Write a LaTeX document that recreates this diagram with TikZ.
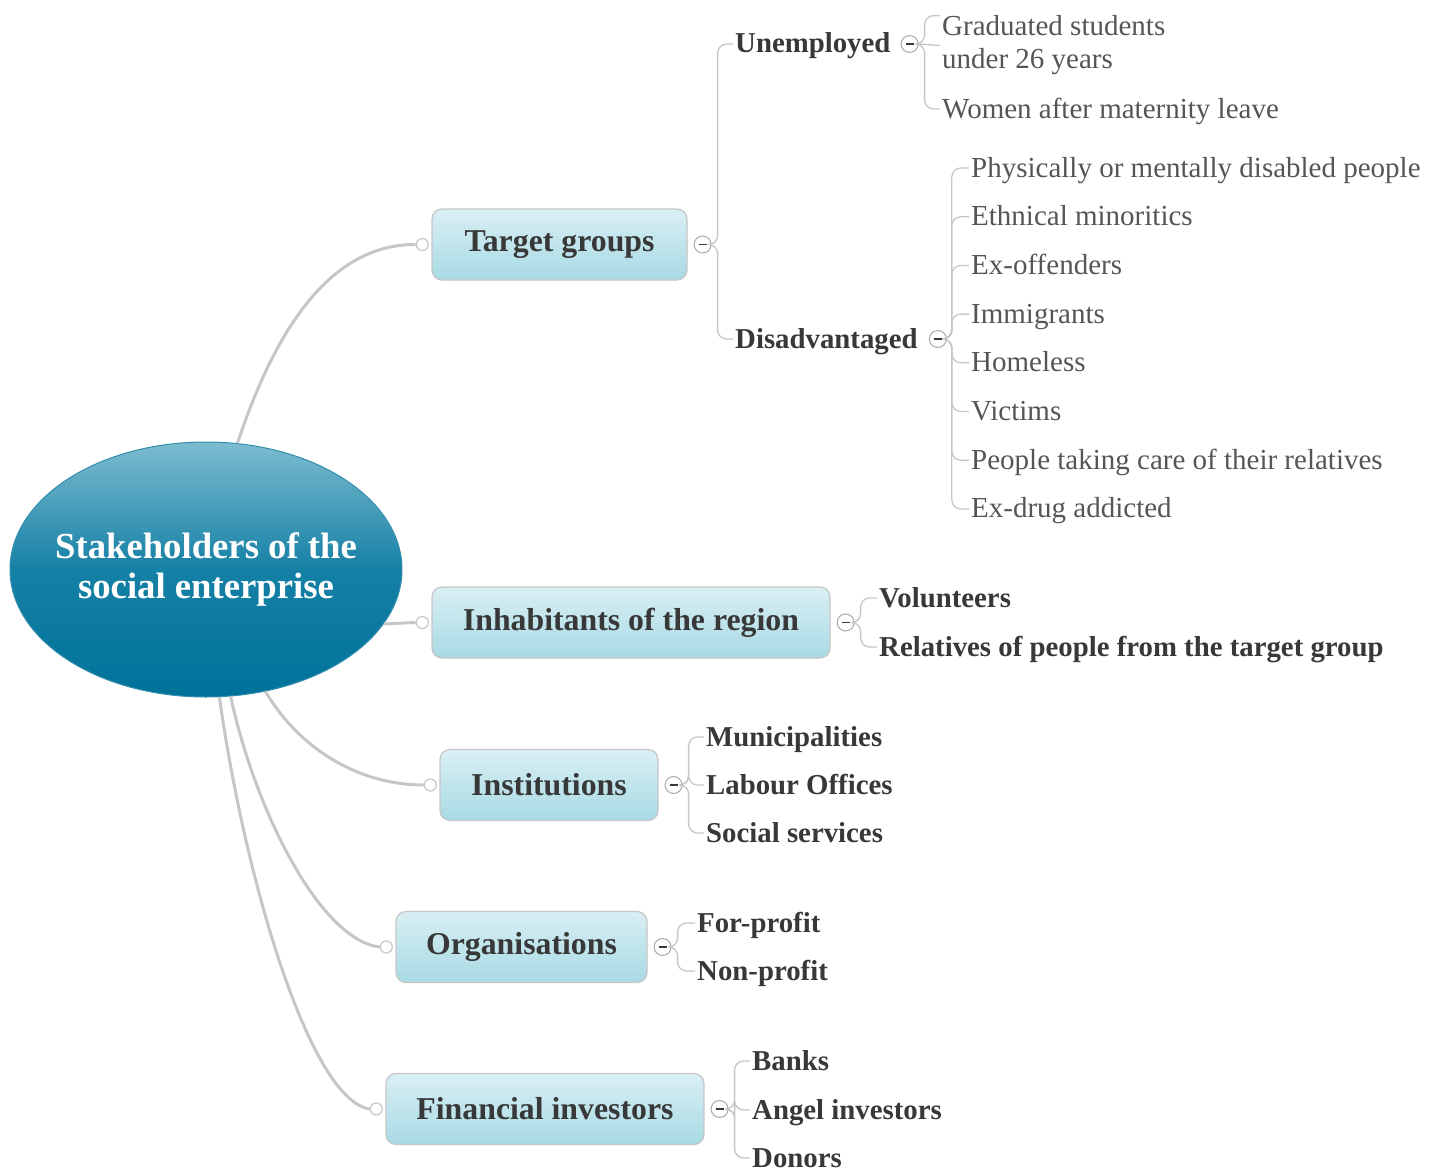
\documentclass[tikz,border=0pt]{standalone}
\usepackage{fontspec}
\setmainfont{Liberation Serif}
\usepackage{xcolor}
\usetikzlibrary{positioning,shapes.geometric}

\definecolor{linkgray}{HTML}{C6C6C6}
\definecolor{hubtop}{HTML}{7DBCD0}
\definecolor{hubmid}{HTML}{1580A5}
\definecolor{hubdark}{HTML}{00729A}
\definecolor{boxtop}{HTML}{D9EFF4}
\definecolor{boxbot}{HTML}{A8DAE4}
\definecolor{inkdark}{HTML}{383838}
\definecolor{inkleaf}{HTML}{555555}

\begin{document}
\begin{tikzpicture}[
  x=1pt, y=-1pt,
  hub/.style={ellipse, draw=hubdark!80!white, line width=1pt, top color=hubtop, bottom color=hubdark, middle color=hubmid,
    minimum width=392pt, minimum height=255pt, inner sep=0pt},
  hubtext/.style={text=white, align=center, inner sep=0pt, font=\fontsize{36.7}{40}\selectfont\bfseries},
  topic/.style={draw=linkgray, line width=1.2pt, rounded corners=10pt, top color=boxtop, bottom color=boxbot,
    minimum height=71pt, text=inkdark, font=\fontsize{31.8}{36}\selectfont\bfseries},
  port/.style={circle, draw=linkgray, fill=white, line width=1.2pt, minimum size=12pt, inner sep=0pt},
  knob/.style={circle, draw=linkgray!85!black, fill=white, line width=1pt, minimum size=17pt, inner sep=0pt,
    path picture={\draw[line width=1.6pt, inkdark]
      ([xshift=-4pt]path picture bounding box.center) -- ([xshift=4pt]path picture bounding box.center);}},
  sub/.style={anchor=west, inner xsep=2pt, inner ysep=0pt, text height=22pt, text depth=4pt,
    text=inkdark, font=\fontsize{28.8}{33}\selectfont\bfseries},
  leafbase/.style={anchor=west, inner xsep=2pt, inner ysep=0pt, text=inkleaf, font=\fontsize{29}{33}\selectfont},
  leaf/.style={leafbase, text height=22pt, text depth=4pt},
  link/.style={draw=linkgray, line width=3pt},
  brace/.style={draw=linkgray, line width=1.3pt, rounded corners=9pt}
]
\useasboundingbox (0,0) rectangle (1438,1172);

% central topic
\node[hub] (hub) at (206,569.5) {};
\node[hubtext] (hub-t) at (hub) {Stakeholders of the\\social enterprise};

% main topics
\node[topic, minimum width=255pt] (tg)  at (559.5,244.5) {Target groups};
\node[topic, minimum width=398pt] (inh) at (631,622.5)   {Inhabitants of the region};
\node[topic, minimum width=218pt] (ins) at (549,785)     {Institutions};
\node[topic, minimum width=251pt] (org) at (521.5,947)   {Organisations};
\node[topic, minimum width=318pt] (fin) at (545,1109)    {Financial investors};
\foreach \t in {tg,inh,ins,org,fin} {
  \node[port, left=2.5pt of \t] (\t-p) {};
  \node[knob, right=6pt of \t] (\t-k) {};
}

% hub to main topics
\draw[link] (hub.76) .. controls (275,330) and (330,244) .. (tg-p.west);
\draw[link] (hub.-17) -- (inh-p.west);
\draw[link] (hub.-64) .. controls (300,750) and (360,785) .. (ins-p.west);
\draw[link] (hub.-79) .. controls (255,810) and (320,940) .. (org-p.west);
\draw[link] (hub.-84) .. controls (245,880) and (310,1100) .. (fin-p.west);

% target groups
\node[sub] (unemp)  at (733,44)  {Unemployed};
\node[sub] (disadv) at (733,339) {Disadvantaged};
\node[knob, right=8pt of unemp]  (unemp-k)  {};
\node[knob, right=9pt of disadv] (disadv-k) {};
\foreach \c in {unemp,disadv}
  \draw[brace] (tg-k.east) -- ++(6,0) |- (\c.west);

\node[leafbase, align=left] (grad) at (940,45.5) {Graduated students\\under 26 years};
\node[leaf] (women) at (940,109) {Women after maternity leave};
\draw[brace] (unemp-k.east) -- (grad.west);
\draw[brace] (unemp-k.east) -- ++(6,0) |- (grad.north west);
\draw[brace] (unemp-k.east) -- ++(6,0) |- (women.west);

\foreach \txt [count=\i from 0] in {Physically or mentally disabled people, Ethnical minoritics, Ex-offenders,
    Immigrants, Homeless, Victims, People taking care of their relatives, Ex-drug addicted} {
  \node[leaf] (dis-\i) at (969,{168+48.7*\i}) {\txt};
  \draw[brace] (disadv-k.east) -- ++(5,0) |- (dis-\i.west);
}

% inhabitants
\node[sub] (vol) at (877,598) {Volunteers};
\node[sub] (rel) at (877,647) {Relatives of people from the target group};
\foreach \c in {vol,rel}
  \draw[brace] (inh-k.east) -- ++(6,0) |- (\c.west);

% institutions
\node[sub] (mun) at (704,737) {Municipalities};
\node[sub] (lab) at (704,785) {Labour Offices};
\node[sub] (soc) at (704,833) {Social services};
\foreach \c in {mun,lab,soc}
  \draw[brace] (ins-k.east) -- ++(6,0) |- (\c.west);

% organisations
\node[sub] (fp)  at (695,923) {For-profit};
\node[sub] (nfp) at (695,971) {Non-profit};
\foreach \c in {fp,nfp}
  \draw[brace] (org-k.east) -- ++(6,0) |- (\c.west);

% financial investors
\node[sub] (bank)  at (750,1061) {Banks};
\node[sub] (angel) at (750,1110) {Angel investors};
\node[sub] (don)   at (750,1158) {Donors};
\foreach \c in {bank,angel,don}
  \draw[brace] (fin-k.east) -- ++(6,0) |- (\c.west);
\end{tikzpicture}
\end{document}
